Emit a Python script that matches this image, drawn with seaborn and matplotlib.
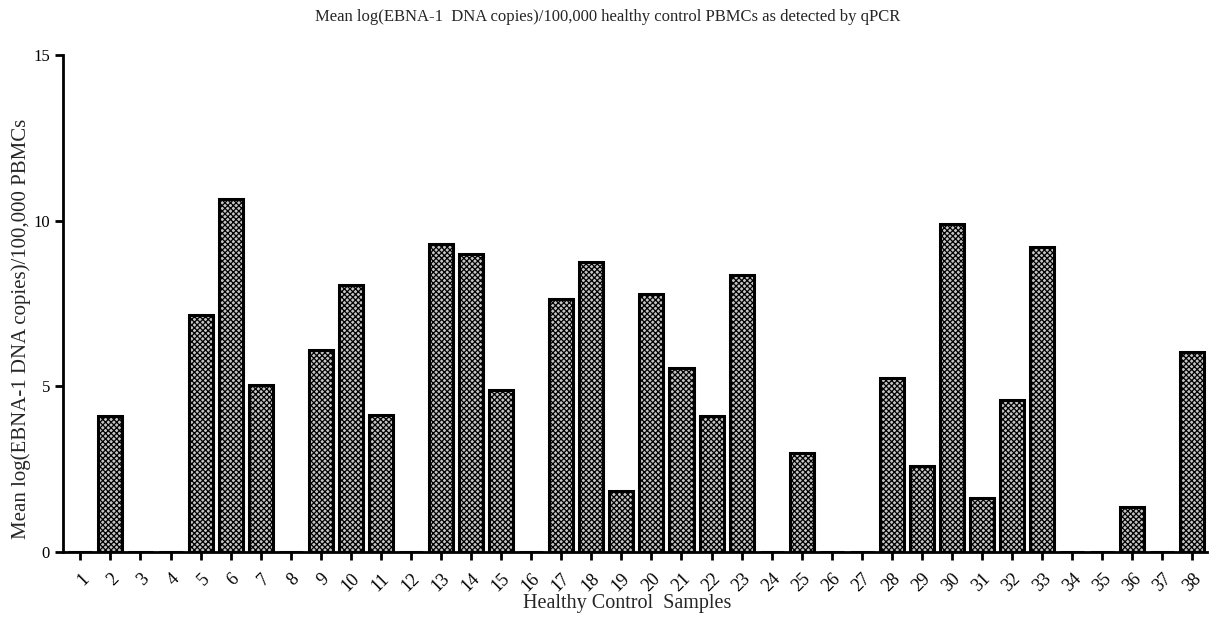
import numpy as np
import pandas as pd
import matplotlib
matplotlib.use("Agg")
import matplotlib.pyplot as plt
import seaborn as sns

# sample numbers and mean log EBNA-1 copies per 100,000 PBMCs
samples = [str(i) for i in range(1, 39)]
values = [0, 4.1, 0, 0, 7.15, 10.65, 5.05, 0, 6.1, 8.05,
          4.15, 0, 9.3, 9.0, 4.9, 0, 7.65, 8.75, 1.85, 7.8,
          5.55, 4.1, 8.35, 0, 3.0, 0, 0, 5.25, 2.6, 9.9,
          1.65, 4.6, 9.2, 0, 0, 1.35, 0, 6.05]
y_ticks = [0, 5, 10, 15]

df = pd.DataFrame({"sample": samples, "value": values})

sns.set_style("ticks")
plt.rcParams["font.family"] = ["Liberation Serif", "DejaVu Serif"]
plt.rcParams["hatch.linewidth"] = 0.9
plt.rcParams["hatch.color"] = "#333333"

fig = plt.figure(figsize=(12.16, 6.17), dpi=100)
ax = fig.add_axes([0.052, 0.105, 0.941, 0.806])

sns.barplot(data=df, x="sample", y="value", order=samples, color="white",
            edgecolor="black", linewidth=2.2, width=0.8, ax=ax)
for p in ax.patches:
    p.set_hatch("xxxxxx")
    p.set_facecolor("#c4c4c4")

ax.set_xlim(-0.57, 37.5)
ax.set_ylim(0, 15)
ax.set_yticks(y_ticks)
ax.set_yticklabels([str(t) for t in y_ticks], fontsize=12)
ax.set_xticks(range(len(samples)))
ax.set_xticklabels(samples, rotation=45, ha="right", rotation_mode="anchor",
                   fontsize=13)
ax.tick_params(axis="both", width=2, length=6, direction="out", colors="black")
ax.tick_params(axis="x", pad=7)

sns.despine(ax=ax)
for s in ("left", "bottom"):
    ax.spines[s].set_linewidth(2)
    ax.spines[s].set_color("black")

ax.set_xlabel("Healthy Control  Samples", fontsize=14.5)
ax.xaxis.set_label_coords(0.493, -0.085)
ax.set_ylabel("Mean log(EBNA-1 DNA copies)/100,000 PBMCs", fontsize=15)
ax.yaxis.set_label_coords(-0.028, 0.45)
fig.text(0.5, 0.972, "Mean log(EBNA-1  DNA copies)/100,000 healthy control PBMCs "
         "as detected by qPCR", ha="center", va="center", fontsize=12)

fig.savefig("out.png", dpi=100)
plt.close(fig)
